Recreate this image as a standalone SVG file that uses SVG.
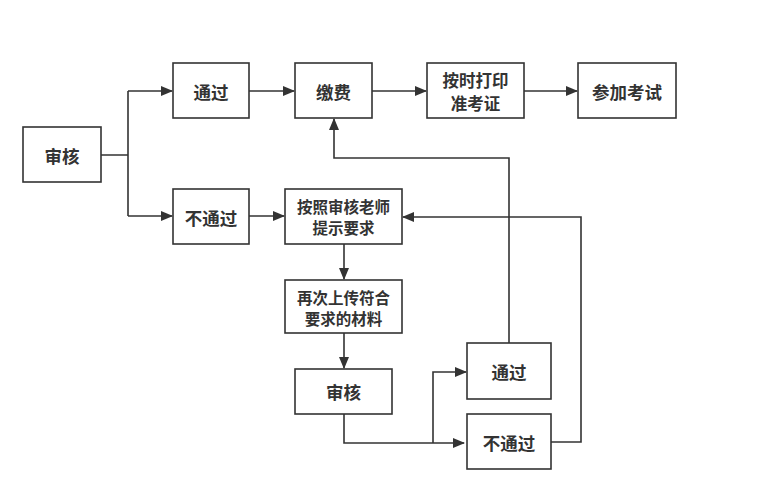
<svg xmlns="http://www.w3.org/2000/svg" width="765" height="501" viewBox="0 0 765 501">
<style>
.box{fill:#fff;stroke:#333;stroke-width:1.6}
.t{font-family:"Noto Sans CJK SC","Noto Sans",sans-serif;font-weight:bold;fill:#333;text-anchor:middle;dominant-baseline:central}
.l{font-size:17.5px}
.s{font-size:16.5px}
.m{font-size:15.5px}
.c{fill:none;stroke:#333;stroke-width:1.6}
</style>
<defs>
<marker id="a" markerWidth="12" markerHeight="10" refX="11" refY="5" orient="auto" markerUnits="userSpaceOnUse">
<path d="M0,0 L12,5 L0,10 Z" fill="#333"/>
</marker>
</defs>
<rect width="765" height="501" fill="#fff"/>
<g id="connectors">
<path class="c" d="M101,155 H128 M128,91 V216"/>
<path class="c" d="M128,91 H172" marker-end="url(#a)"/>
<path class="c" d="M128,216 H172" marker-end="url(#a)"/>
<path class="c" d="M249,91 H294" marker-end="url(#a)"/>
<path class="c" d="M372,91 H426" marker-end="url(#a)"/>
<path class="c" d="M524,91 H577" marker-end="url(#a)"/>
<path class="c" d="M249,216 H284" marker-end="url(#a)"/>
<path class="c" d="M344,244 V279" marker-end="url(#a)"/>
<path class="c" d="M344,333 V368" marker-end="url(#a)"/>
<path class="c" d="M344,414 V443 H464" marker-end="url(#a)"/>
<path class="c" d="M433,443 V372 H466" marker-end="url(#a)"/>
<path class="c" d="M509,343 V158 H334 V119" marker-end="url(#a)"/>
<path class="c" d="M551,442 H581 V217 H403" marker-end="url(#a)"/>
</g>
<g id="n1"><rect class="box" x="23" y="127" width="78" height="55"/><text class="t l" x="62" y="155">审核</text></g>
<g id="n2"><rect class="box" x="173" y="63" width="76" height="55"/><text class="t l" x="211" y="91">通过</text></g>
<g id="n3"><rect class="box" x="295" y="63" width="77" height="55"/><text class="t l" x="333.5" y="91">缴费</text></g>
<g id="n4"><rect class="box" x="427" y="63" width="97" height="55"/><text class="t s" x="475.5" y="79.5">按时打印</text><text class="t s" x="475.5" y="102.5">准考证</text></g>
<g id="n5"><rect class="box" x="578" y="63" width="98" height="55"/><text class="t l" x="627" y="91">参加考试</text></g>
<g id="n6"><rect class="box" x="173" y="189" width="76" height="55"/><text class="t l" x="211" y="217">不通过</text></g>
<g id="n7"><rect class="box" x="285" y="189" width="117" height="55"/><text class="t m" x="343.5" y="206">按照审核老师</text><text class="t m" x="343.5" y="227">提示要求</text></g>
<g id="n8"><rect class="box" x="285" y="280" width="117" height="53"/><text class="t m" x="343.5" y="297">再次上传符合</text><text class="t m" x="343.5" y="318">要求的材料</text></g>
<g id="n9"><rect class="box" x="295" y="369" width="97" height="45"/><text class="t l" x="343.5" y="391.5">审核</text></g>
<g id="n10"><rect class="box" x="467" y="343" width="84" height="56"/><text class="t l" x="509" y="371">通过</text></g>
<g id="n11"><rect class="box" x="467" y="414" width="84" height="55"/><text class="t l" x="509" y="442">不通过</text></g>
</svg>
